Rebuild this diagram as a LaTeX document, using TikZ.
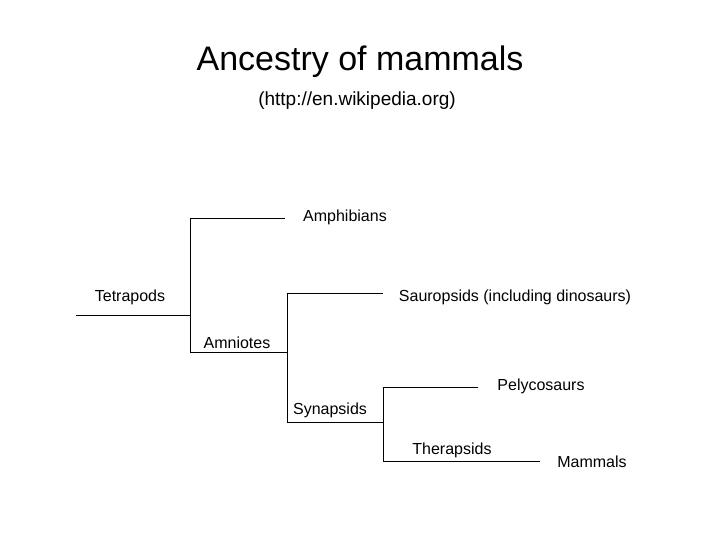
\documentclass[tikz,border=0pt]{standalone}
\usepackage{fontspec}
\setmainfont{Liberation Sans}
\begin{document}
\begin{tikzpicture}[x=1pt,y=-1pt,lbl/.style={inner sep=0pt,font=\fontsize{16}{18}\selectfont},ln/.style={draw=black,line width=0.8pt}]
\useasboundingbox (0,0) rectangle (720,540);
\node[inner sep=0pt,font=\fontsize{34}{38}\selectfont] (title) at (360,62) {Ancestry of mammals};
\node[inner sep=0pt,font=\fontsize{19}{22}\selectfont] (sub) at (357,101) {(http://en.wikipedia.org)};
\node[lbl] (tet) at (130,297) {Tetrapods};
\node[lbl] (amp) at (345,217) {Amphibians};
\node[lbl] (sau) at (515,297) {Sauropsids (including dinosaurs)};
\node[lbl] (amn) at (237,343) {Amniotes};
\node[lbl] (syn) at (330,410) {Synapsids};
\node[lbl] (pel) at (541,386) {Pelycosaurs};
\node[lbl] (the) at (452,450) {Therapsids};
\node[lbl] (mam) at (592,462) {Mammals};
\coordinate (r0) at (76,315); \coordinate (r1) at (190,315);
\coordinate (a0) at (190,218); \coordinate (a1) at (285,218);
\coordinate (m0) at (190,352); \coordinate (m1) at (287,352);
\coordinate (s0) at (287,293); \coordinate (s1) at (383,293);
\coordinate (y0) at (287,422); \coordinate (y1) at (383,422);
\coordinate (p0) at (383,387); \coordinate (p1) at (478,387);
\coordinate (t0) at (383,461); \coordinate (t1) at (540,461);
\draw[ln] (r0) -- (r1);
\draw[ln] (a1) -- (a0) -- (m0) -- (m1);
\draw[ln] (s1) -- (s0) -- (y0) -- (y1);
\draw[ln] (p1) -- (p0) -- (t0) -- (t1);
\end{tikzpicture}
\end{document}
